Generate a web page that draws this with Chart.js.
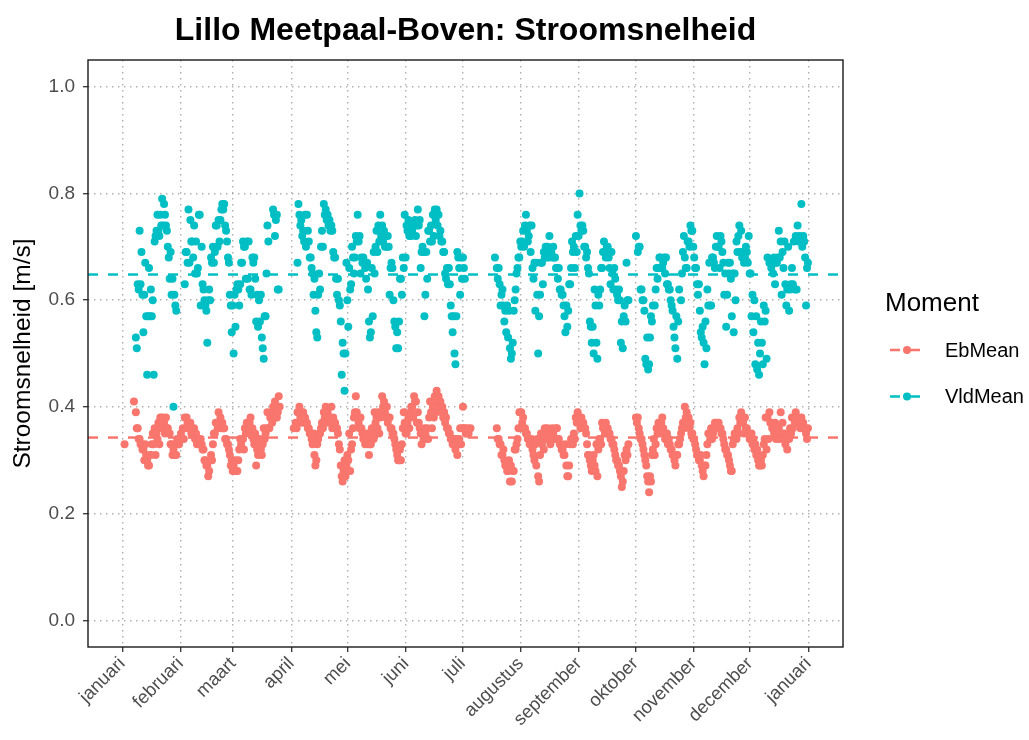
<!DOCTYPE html>
<html>
<head>
<meta charset="utf-8">
<script src="https://cdn.jsdelivr.net/npm/chart.js@4.4.1/dist/chart.umd.min.js"></script>
<style>
  html, body { margin: 0; padding: 0; background: #ffffff; }
  #wrap { width: 1029px; height: 740px; }
</style>
</head>
<body>
<div id="wrap"><canvas id="chart" width="1029" height="740"></canvas></div>
<script>
const _ = null;

// x axis: day of year, month starts and their labels
const MONTH_LABELS = ["januari", "februari", "maart", "april", "mei", "juni", "juli",
  "augustus", "september", "oktober", "november", "december", "januari"];
const MONTH_STARTS = [0, 31, 59, 90, 120, 151, 181, 212, 243, 273, 304, 334, 365];
const Y_TICKS = [0, 0.2, 0.4, 0.6, 0.8, 1.0];
const X_MIN = -18.2;
const X_MAX = 383.4;

// mean levels (dashed lines)
const EB_LEVEL = 0.3425;
const VLD_LEVEL = 0.648;

// flood tide (VldMean), two tides per day, m/s
const vldJan = [
  _,_, _,_, _,_, _,_, _,_,
  _,_, _,_, .53,.51, .63,.62, .73,.63,
  .69,.61, .54,.61, .67,.57, .46,.57, .66,.57,
  .62,.57, .60,.46, .71,.72, .73,.76, .73,.72,
  .76,.74, .79,.74, .78,.76, .74,.73, .70,.68,
  .64,.69, .61,.64, .40,.61, .59,.58, _,_,
  _,_
];
const vldFeb = [
  _,_, _,_, .63,.69, .69,.67, .77,.67,
  .75,.71, .71,.68, .74,.65, .71,.65, .66,.76,
  .76,.59, .70,.63, .62,.60, .59,.58, .52,.60,
  .62,.60, .68,.67, .70,.67, .69,.74, .74,.70,
  .75,.71, .75,.77, .78,.77, .78,.74, .73,.71,
  .68,.67, .61,.59, .54,.59
];
const vldMar = [
  .50,.61, .55,.62, .63,.62, .59,.63, .67,.67,
  .71,.70, .70,.64, .71,.64, .71,.62, .62,.61,
  .68,.67, .68,.64, .56,.61, .55,.60, .56,.61,
  .53,.51, .49,.57, .57,.65, .74,.71, _,_,
  _,_, .77,.76, .72,.75, .76,.62, .62,_,
  _,_, _,_, _,_, _,_, _,_,
  _,_
];
const vldApr = [
  _,_, _,_, _,_, .67,.78, .76,.74,
  .75,.72, .73,.71, .76,.70, .76,.73, .71,.68,
  .68,.66, .65,.61, .64,.58, .54,.53, .61,.65,
  .62,.70, .73,.70, .78,.76, .77,.75, .76,.74,
  .75,.73, .74,.73, .69,.68, .68,.64, .61,.64,
  .60,.59, .56,.46, .52,.50, .43,.50, .67,.60
];
const vldMay = [
  .55,.66, .62,.63, .70,.68, .65,.68, .72,.71,
  .76,.71, .72,.65, .68,.67, .68,.67, .66,.64,
  .67,.62, .56,.53, .54,.66, .57,.69, .65,.70,
  .73,.69, .74,.71, .76,.72, .74,.71, .73,.70,
  .72,.70, .72,.70, .61,.66, .67,.66, .60,.56,
  .55,.51, .54,.51, .56,.64, .64,.61, .68,.66,
  .76,.68
];
const vldJun = [
  .74,.73, .75,.72, .74,.72, .73,.74, .74,.75,
  .72,.74, .77,.74, .75,.66, .69,.70, .69,.57,
  .61,.69, .64,.73, .73,.71, .74,.71, .76,.72,
  .77,.75, .77,.74, .76,.72, .73,.71, .71,.69,
  .69,.65, .64,.66, .63,.66, .63,.59, .57,.54,
  .57,.50, .48,.57, .69,.68, .66,.61, .68,.64
];
const vldJul = [
  .68,.66, .64,_, _,_, _,_, _,_,
  _,_, _,_, _,_, _,_, _,_,
  _,_, _,_, _,_, _,_, _,_,
  _,_, _,_, .68,_, .66,.64, .66,.63,
  .59,.61, .62,.59, .56,.58, .54,.59, .53,.58,
  .51,.49, .50,.52, .58,.60, .62,.65, .66,.68,
  .68,.71
];
const vldAug = [
  .70,.71, .73,.70, .74,.76, .73,.71, .72,.74,
  .69,.74, .66,.64, .67,.58, .67,.61, .50,.57,
  .61,.67, .67,.63, .69,.68, .70,.68, .70,.68,
  .72,.69, .69,.68, .70,.68, .68,.66, .66,.64,
  .66,.62, .62,.61, .61,.59, .57,.54, .59,.55,
  .58,.63, .63,.66, .71,.69, .70,.66, .72,.69,
  .76,.72
];
const vldSep = [
  .80,.74, .73,.74, .73,.70, .70,.68, .69,.66,
  .65,.56, .55,.52, .55,.50, .62,.59, .52,.49,
  .61,.59, .62,.66, .66,.69, .71,.69, .68,.70,
  .70,.68, .66,.63, .69,.65, .62,.66, .64,.62,
  .61,.60, .62,.60, .52,.56, .51,.57, .59,.56,
  .67,.60, .60,_, _,_, _,_, _,_
];
const vldOct = [
  .72,_, .69,.70, .70,.62, .62,.60, .60,.58,
  .49,.48, .53,.47, .48,.53, .57,.56, .59,_,
  .59,.62, .66,.64, .66,.68, .68,.66, .66,.67,
  .68,.65, .68,.63, .63,.62, .62,.60, .59,.58,
  .55,.53, .51,.57, .49,.56, .62,_, .60,.65,
  .69,.72, .68,.66, .66,.71, .71,.70, .74,.73,
  .73,.70
];
const vldNov = [
  .68,.66, .66,.63, .61,.63, .58,.54, .53,.55,
  .52,.48, .56,.51, .62,.59, .67,.59, .59,.68,
  .68,.67, .66,.70, .72,.70, .70,.66, .72,.71,
  .69,.67, .61,.65, .55,.61, .67,.65, .67,.64,
  .57,.65, .54,.65, .60,.71, .69,.72, .74,.69,
  .73,.68, .69,.67, .68,.70, .69,.67, .72,.65
];
const vldDec = [
  .65,.57, .61,.54, .60,.48, .57,.47, .52,.46,
  .50,.56, .52,.48, .59,.56, .58,.49, .68,_,
  .67,_, .66,_, .65,.68, .63,.67, .67,.68,
  .73,.68, .71,.61, .69,.66, .71,.63, .59,.62,
  .70,.58, .62,.63, .66,.63, .71,.62, .72,.62,
  .74,.71, .72,.71, .78,.70, .72,.71, .68,.59,
  .66,.67
];

// ebb tide (EbMean), two tides per day, m/s
const ebJan = [
  _,_, .33,_, _,_, _,_, _,_,
  _,_, .41,_, .39,.36, .36,.34, .34,.33,
  .33,.32, .32,.30, .33,.31, .30,.29, .29,.31,
  .31,.33, .35,.33, .36,.31, .35,.34, .37,.33,
  .38,.36, .38,.37, .37,.35, .38,.36, .36,.35,
  .35,.33, .33,.31, .32,.31, .33,.31, .34,.33,
  .33,.34
];
const ebFeb = [
  .35,.34, .36,.34, .38,.36, .38,.37, .37,.36,
  .37,.35, .36,.35, .36,.34, .35,.33, .34,.33,
  .33,.34, .33,.32, .32,.30, .30,.29, .29,.27,
  .28,.30, .31,.30, .33,.35, .35,.37, .37,.36,
  .39,.37, .38,.36, .37,.36, .36,.34, .34,.33,
  .33,.32, .31,.29, .30,.28
];
const ebMar = [
  .29,.28, .30,.28, .28,.30, .32,.34, .33,.34,
  .34,.32, .36,.35, .37,.36, .36,.37, .38,.35,
  .36,.34, .33,.35, .29,.32, .31,.33, .34,.32,
  .31,.33, .36,.34, .35,.36, .39,.36, .36,.38,
  .38,.37, .40,.39, .41,.38, .38,.39, .42,.40,
  _,_, _,_, _,_, _,_, _,_,
  _,_
];
const ebApr = [
  _,_, .36,_, .37,.36, .39,.37, .40,.38,
  .39,.37, .39,.38, .38,.37, .37,.36, .36,.35,
  .35,.34, .33,.35, .31,.29, .30,.33, .34,.35,
  .35,.36, .37,.36, .39,.38, .40,.37, .39,.38,
  .38,.37, .40,.36, .38,.37, .37,.36, .36,.35,
  .33,.32, .29,.27, .26,.28, .30,.27, .29,.31
];
const ebMay = [
  .30,.35, .28,.32, .33,.36, .38,.39, .42,.39,
  .38,.37, .36,.38, .36,.35, .34,.35, .33,.34,
  .35,.33, .31,.33, .33,.36, .35,.34, .39,.37,
  .38,.36, .39,.35, .38,.39, .42,.40, .41,.39,
  .38,.40, .37,.38, .38,.36, .36,.35, .35,.34,
  .33,.32, .31,.30, .30,.32, .30,.33, .36,.39,
  .37,.35
];
const ebJun = [
  .35,.37, .38,.36, .39,.40, .40,.38, .42,.41,
  .41,.37, .39,.37, .36,.35, .33,.35, .34,.36,
  .35,.34, .36,.34, .38,.41, .39,.36, .40,.38,
  .42,.39, .43,.41, .42,.40, .41,.39, .40,.38,
  .39,.37, .38,.36, .36,.35, .35,.34, .34,.33,
  .33,.34, .32,.34, .31,.33, .34,.36, .33,.36
];
const ebJul = [
  .40,.36, .36,.35, .35,.36, .35,_, .36,_,
  _,_, _,_, _,_, _,_, _,_,
  _,_, _,_, _,_, _,_, _,_,
  _,_, _,_, _,_, .36,.34, .34,.33,
  .33,.31, .31,.32, .30,.29, .29,.28, .28,.30,
  .26,.29, .26,.28, .28,.32, .32,.33, .34,.36,
  .39,.36
];
const ebAug = [
  .39,.37, .38,.36, .36,.35, .35,.34, .34,.33,
  .33,.34, .32,.31, .30,.33, .29,.34, .27,.26,
  .31,.35, .33,.34, .32,.36, .34,.35, .36,.34,
  .35,.33, .34,.36, .35,.34, .34,.36, .36,.34,
  .34,.33, .33,.32, .32,.31, .31,.33, .29,.27,
  .27,.29, .33,.34, .34,.33, .35,.34, .38,.37,
  .39,.38
];
const ebSep = [
  .38,.36, .38,.37, .37,.36, .36,.35, .33,.31,
  .31,.30, .29,.28, .30,.31, .29,.28, .33,.27,
  .32,.34, .34,.33, .37,.36, .36,.35, .37,.35,
  .36,.35, .35,.34, .34,.33, .33,.32, .31,.30,
  .30,.29, .29,.28, .27,.25, .26,.28, .31,.30,
  .32,.31, .33,_, _,_, _,_, _,_
];
const ebOct = [
  .38,.37, .38,.36, .35,.34, .34,.33, .32,.31,
  .30,.29, .27,.26, .24,.27, .26,.31, .32,.34,
  .31,.33, .36,.35, .37,.35, .36,.37, .38,.36,
  .35,.34, .34,.35, .33,.34, .33,.32, .32,.31,
  .31,.30, .29,.31, .31,.33, .33,.34, .35,.36,
  .37,.36, .40,.38, .39,.37, .38,.36, .37,.35,
  .35,.34
];
const ebNov = [
  .34,.33, .32,.31, .31,.30, .30,.31, .29,.28,
  .27,.29, .29,.31, .33,.35, .35,.34, .36,.34,
  .35,.36, .37,.36, .37,.36, .37,.36, .36,.35,
  .35,.34, .33,.32, .32,.31, .31,.30, .29,.28,
  .28,.33, .34,.35, .35,.34, .36,.35, .38,.37,
  .39,.38, .37,.35, .38,.36, .36,.35, .35,.34
];
const ebDec = [
  .34,.35, .33,.34, .32,.33, .31,.32, .30,.29,
  .29,.30, .29,.31, .33,.34, .38,.32, .38,.34,
  .39,.37, .37,.36, .36,.35, .37,.34, .36,.35,
  .36,.34, .39,.35, .37,.34, .35,.33, .34,.32,
  .35,.34, .36,.35, .38,.36, .38,.37, .39,.38,
  .38,.37, .37,.36, .38,.36, .37,.36, .36,.35,
  .34,.36
];

const VLD_MONTHS = [vldJan, vldFeb, vldMar, vldApr, vldMay, vldJun, vldJul, vldAug, vldSep, vldOct, vldNov, vldDec];
const EB_MONTHS = [ebJan, ebFeb, ebMar, ebApr, ebMay, ebJun, ebJul, ebAug, ebSep, ebOct, ebNov, ebDec];

const EB_COLOR = "#F8766D";
const VLD_COLOR = "#00BFC4";
const FONT = "'Liberation Sans', Arial, sans-serif";
const GRID_COLOR = "rgba(160,160,160,0.85)";

// two tides a day: first one in the morning, second in the afternoon
function toPoints(months) {
  const points = [];
  months.forEach((values, m) => {
    const start = MONTH_STARTS[m];
    values.forEach((v, i) => {
      if (v === null) {
        return;
      }
      points.push({ x: start + Math.floor(i / 2) + (i % 2 ? 0.75 : 0.25), y: v });
    });
  });
  return points;
}

function levelLine(level) {
  return [{ x: X_MIN, y: level }, { x: X_MAX, y: level }];
}

const decorPlugin = {
  id: "decor",
  afterDraw(chart) {
    const { ctx, chartArea } = chart;
    ctx.save();
    // panel frame
    ctx.strokeStyle = "#1a1a1a";
    ctx.lineWidth = 1.4;
    ctx.strokeRect(chartArea.left, chartArea.top, chartArea.right - chartArea.left, chartArea.bottom - chartArea.top);

    // title
    ctx.fillStyle = "#000000";
    ctx.font = `bold 32px ${FONT}`;
    ctx.textAlign = "center";
    ctx.textBaseline = "alphabetic";
    ctx.fillText("Lillo Meetpaal-Boven: Stroomsnelheid", (chartArea.left + chartArea.right) / 2, 40);

    // legend
    ctx.textAlign = "left";
    ctx.font = `26px ${FONT}`;
    ctx.fillText("Moment", 885, 311);
    const entries = [
      { label: "EbMean", color: EB_COLOR, y: 350 },
      { label: "VldMean", color: VLD_COLOR, y: 396.5 },
    ];
    ctx.font = `20px ${FONT}`;
    ctx.textBaseline = "middle";
    for (const entry of entries) {
      ctx.strokeStyle = entry.color;
      ctx.lineWidth = 2.5;
      ctx.setLineDash([10, 10]);
      ctx.beginPath();
      ctx.moveTo(890, entry.y);
      ctx.lineTo(922, entry.y);
      ctx.stroke();
      ctx.setLineDash([]);
      ctx.fillStyle = entry.color;
      ctx.beginPath();
      ctx.arc(907, entry.y, 4, 0, Math.PI * 2);
      ctx.fill();
      ctx.fillStyle = "#000000";
      ctx.fillText(entry.label, 945, entry.y + 1);
    }
    ctx.restore();
  },
};

new Chart(document.getElementById("chart"), {
  type: "scatter",
  data: {
    datasets: [
      {
        label: "EbMean level",
        data: levelLine(EB_LEVEL),
        showLine: true,
        borderColor: EB_COLOR,
        borderWidth: 2.5,
        borderDash: [10, 10],
        pointRadius: 0,
        order: 0,
      },
      {
        label: "VldMean level",
        data: levelLine(VLD_LEVEL),
        showLine: true,
        borderColor: VLD_COLOR,
        borderWidth: 2.5,
        borderDash: [10, 10],
        pointRadius: 0,
        order: 0,
      },
      {
        label: "VldMean",
        data: toPoints(VLD_MONTHS),
        backgroundColor: VLD_COLOR,
        pointBackgroundColor: VLD_COLOR,
        pointBorderWidth: 0,
        pointRadius: 4,
        order: 1,
      },
      {
        label: "EbMean",
        data: toPoints(EB_MONTHS),
        backgroundColor: EB_COLOR,
        pointBackgroundColor: EB_COLOR,
        pointBorderWidth: 0,
        pointRadius: 4,
        order: 2,
      },
    ],
  },
  options: {
    responsive: false,
    animation: false,
    events: [],
    layout: { padding: { top: 60, right: 186, bottom: 0, left: 0 } },
    plugins: {
      legend: { display: false },
      title: { display: false },
      tooltip: { enabled: false },
    },
    scales: {
      x: {
        type: "linear",
        min: X_MIN,
        max: X_MAX,
        afterBuildTicks: (axis) => {
          axis.ticks = MONTH_STARTS.map((value) => ({ value }));
        },
        afterFit: (axis) => {
          axis.height = 93;
        },
        ticks: {
          autoSkip: false,
          minRotation: 45,
          maxRotation: 45,
          padding: 1,
          color: "#4d4d4d",
          font: { family: FONT, size: 18.5 },
          callback: (value, index) => MONTH_LABELS[index],
        },
        grid: {
          color: GRID_COLOR,
          lineWidth: 1.4,
          tickLength: 5,
          tickColor: "#333333",
          tickWidth: 1.3,
        },
        border: { display: false, dash: [1.4, 4.6] },
      },
      y: {
        min: -0.05,
        max: 1.05,
        afterBuildTicks: (axis) => {
          axis.ticks = Y_TICKS.map((value) => ({ value }));
        },
        afterFit: (axis) => {
          axis.width = 88;
        },
        ticks: {
          padding: 8,
          color: "#4d4d4d",
          font: { family: FONT, size: 19 },
          callback: (value) => value.toFixed(1),
        },
        grid: {
          color: GRID_COLOR,
          lineWidth: 1.4,
          tickLength: 5,
          tickColor: "#333333",
          tickWidth: 1.3,
        },
        border: { display: false, dash: [1.4, 4.6] },
        title: {
          display: true,
          text: "Stroomsnelheid [m/s]",
          color: "#000000",
          font: { family: FONT, size: 24.5 },
          padding: { top: 9, bottom: 0 },
        },
      },
    },
  },
  plugins: [decorPlugin],
});
</script>
</body>
</html>
